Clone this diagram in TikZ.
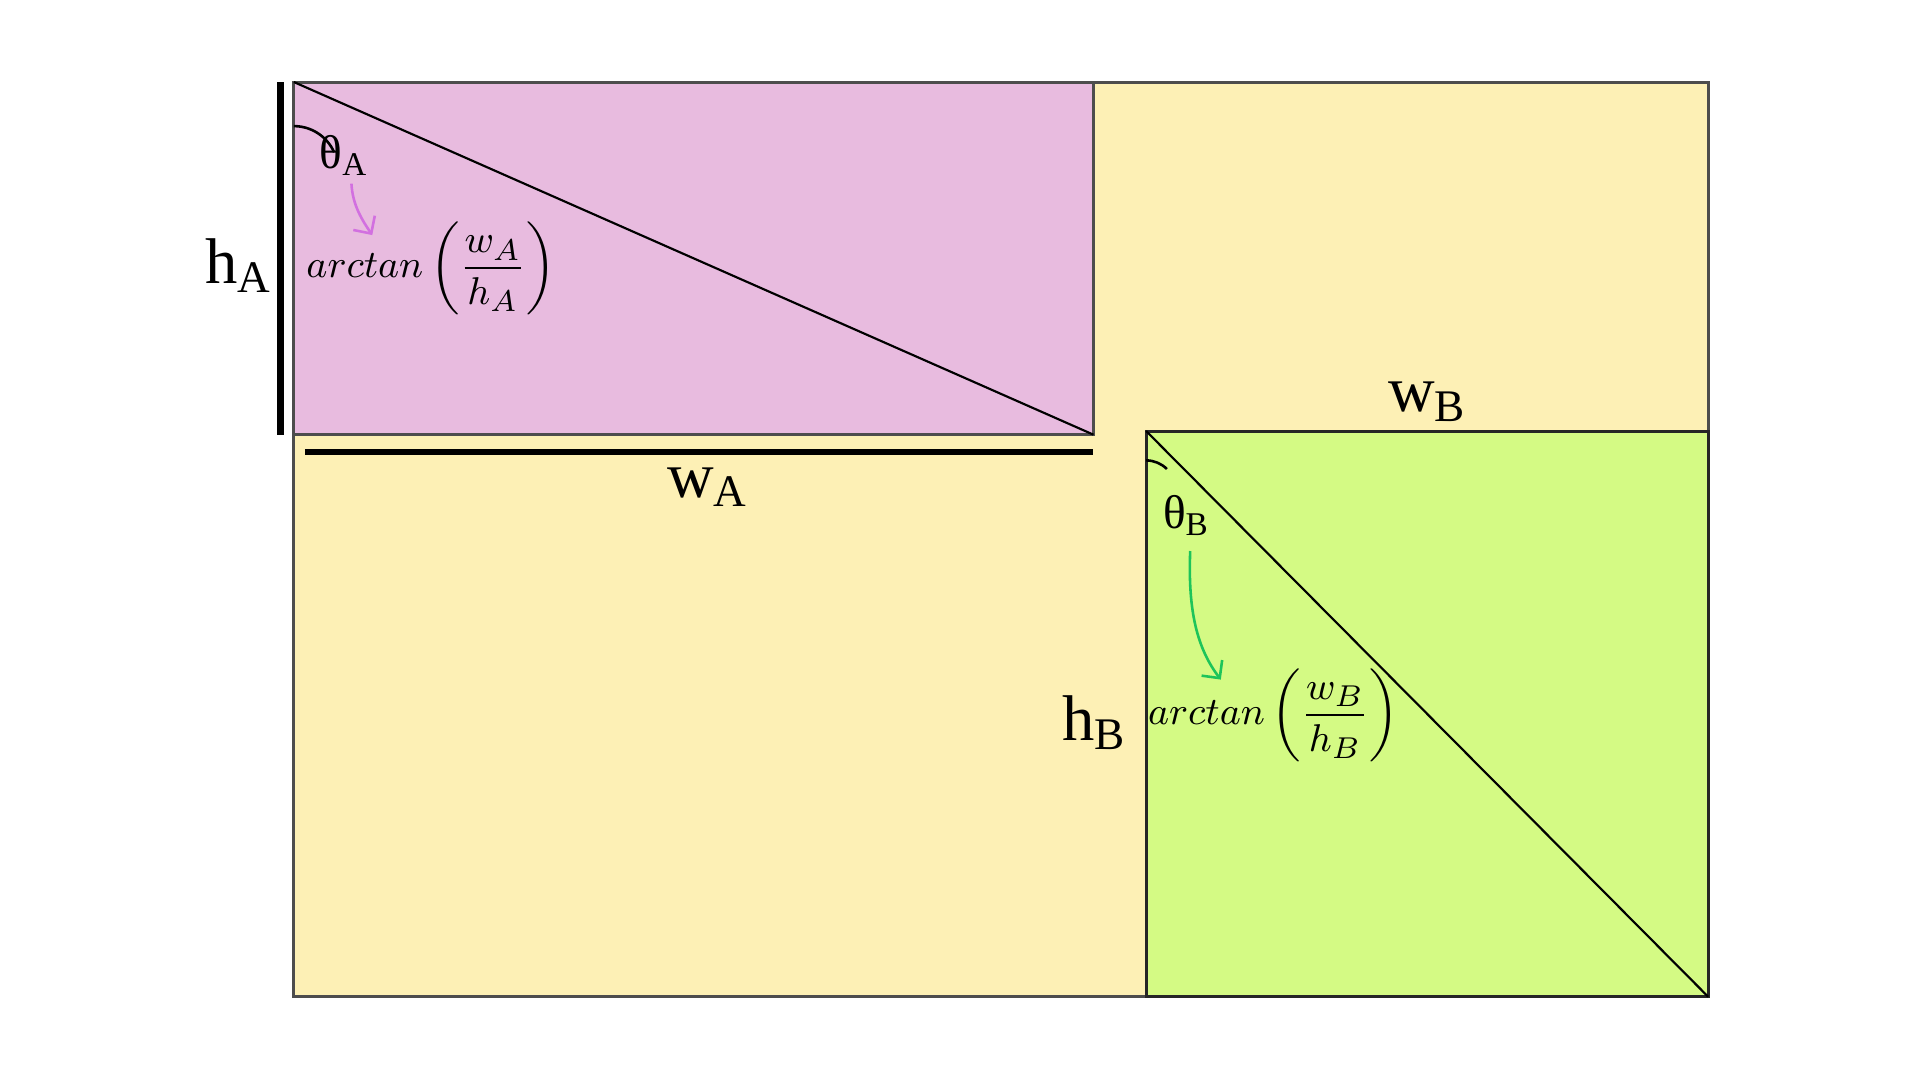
\documentclass[tikz,border=0pt]{standalone}
\usepackage{fontspec}
\setmainfont{Liberation Serif}
\usepackage{amsmath}
\usetikzlibrary{arrows.meta}
\definecolor{yel}{HTML}{FDF0B5}
\definecolor{pnk}{HTML}{E8BBDF}
\definecolor{grn}{HTML}{D4FA84}
\definecolor{edg}{HTML}{4D4D4D}
\definecolor{parr}{HTML}{D270E0}
\definecolor{garr}{HTML}{1DC45A}
\tikzset{box/.style={draw=edg,line width=0.7pt},
 bar/.style={line width=1.5pt,black},
 lbl/.style={font=\fontsize{15}{18}\selectfont,inner sep=0pt},
 th/.style={font=\fontsize{11}{13}\selectfont,inner sep=0pt},
 frm/.style={font=\fontsize{9.5}{12}\selectfont,inner sep=0pt},
 carr/.style={line width=0.6pt,-{Straight Barb[length=3pt]}}}
\begin{document}
\begin{tikzpicture}[x=0.01cm,y=-0.01cm]
\useasboundingbox (0,0) rectangle (1568,882);
\fill[white] (0,0) rectangle (1568,882);
\draw[box,fill=yel] (240,67) rectangle (1395,814);
\draw[box,fill=pnk] (240,67) rectangle (893,355);
\draw[box,fill=grn,draw=black!85] (936,352) rectangle (1395,814);
\coordinate (a1) at (240,67); \coordinate (a2) at (893,355);
\coordinate (b1) at (936,352); \coordinate (b2) at (1395,814);
\draw[line width=0.5pt] (a1) -- (a2);
\draw[line width=0.5pt] (b1) -- (b2);
\draw[line width=0.6pt] (240,103) arc[start angle=-90,end angle=-24,radius=36];
\draw[line width=0.6pt] (936,376) arc[start angle=-90,end angle=-45,radius=24];
\coordinate (v1) at (229,67); \coordinate (v2) at (229,355);
\coordinate (h1) at (249,369); \coordinate (h2) at (893,369);
\draw[bar] (v1) -- (v2);
\draw[bar] (h1) -- (h2);
\node[lbl] (hA) at (195,217) {h\textsubscript{A}};
\node[lbl] (wA) at (578,398) {w\textsubscript{A}};
\node[lbl] (wB) at (1166,328) {w\textsubscript{B}};
\node[lbl] (hB) at (894,590) {h\textsubscript{B}};
\node[th] (tA) at (281,127) {θ\textsubscript{A}};
\node[th] (tB) at (969,421) {θ\textsubscript{B}};
\node[frm] (fA) at (352,219) {$arctan\left(\dfrac{w_A}{h_A}\right)$};
\node[frm] (fB) at (1040,584) {$arctan\left(\dfrac{w_B}{h_B}\right)$};
\draw[carr,parr] (287,150) .. controls (288,168) and (296,180) .. (304,192);
\draw[carr,garr] (972,450) .. controls (970,500) and (978,530) .. (997,555);
\end{tikzpicture}
\end{document}
